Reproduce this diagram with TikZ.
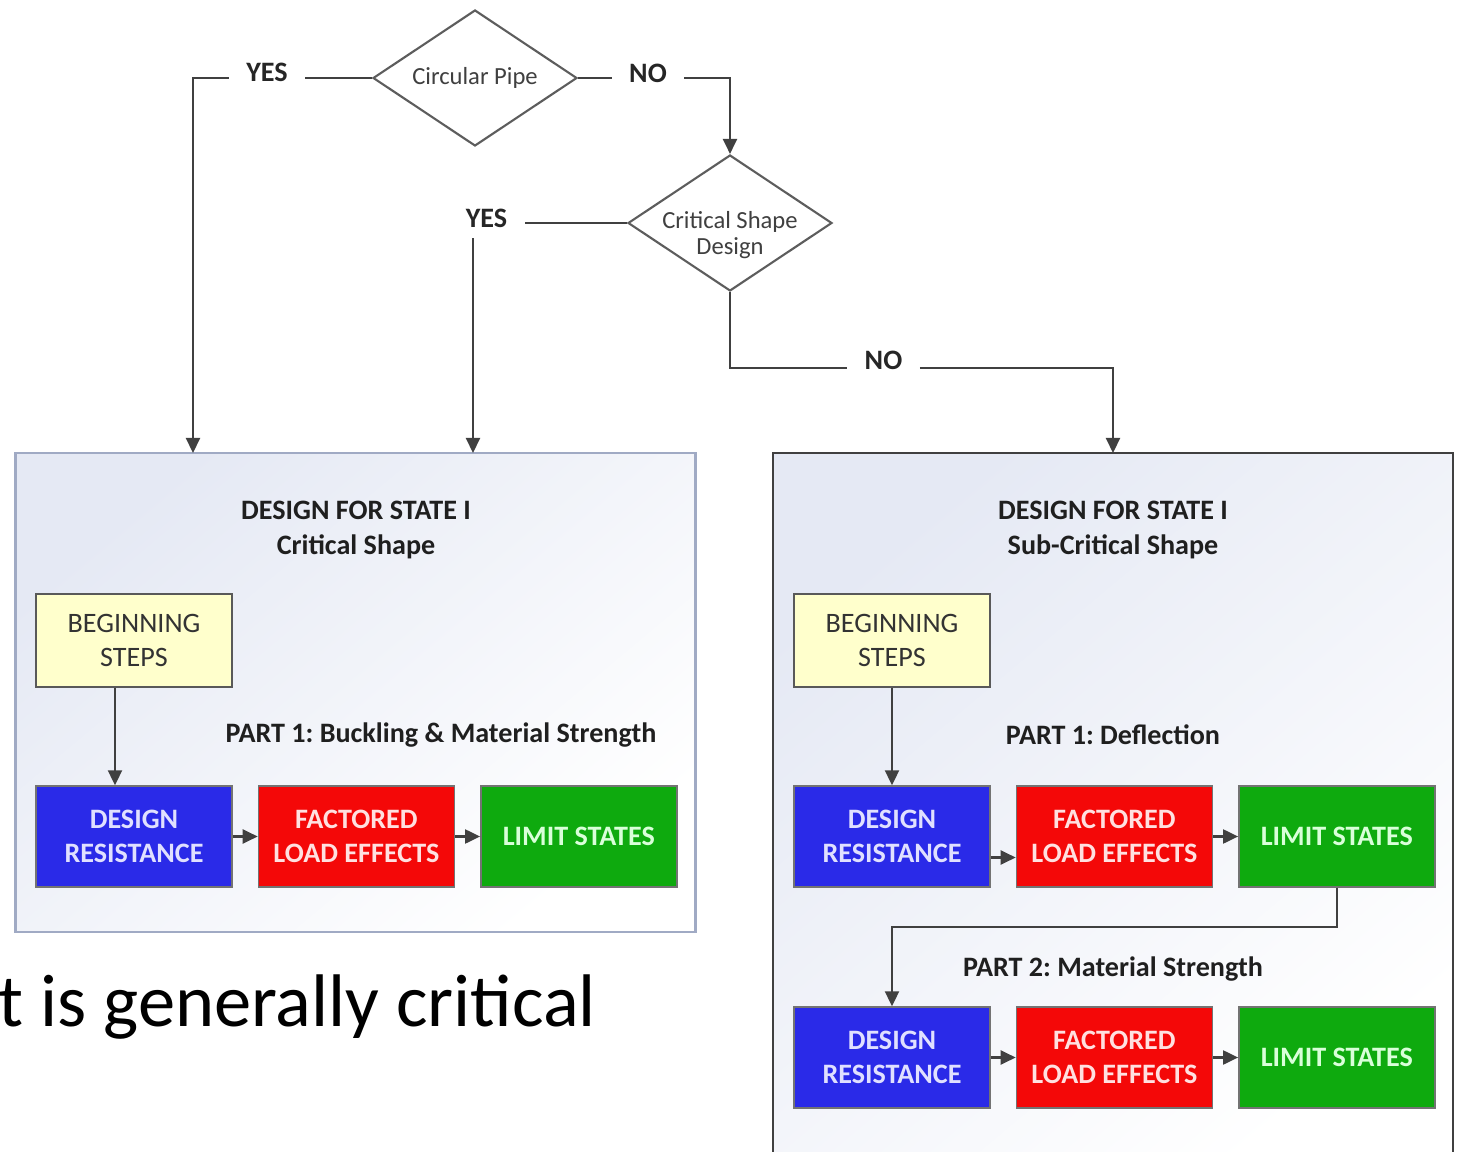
\documentclass[tikz,border=0pt]{standalone}
\usepackage{fontspec}
\setmainfont{Carlito}
\usepackage{tikz}
\usetikzlibrary{shapes.geometric, arrows.meta, positioning, calc}
\frenchspacing

\definecolor{boxblue}{RGB}{42,42,232}
\definecolor{boxred}{RGB}{244,8,8}
\definecolor{boxgreen}{RGB}{14,170,14}
\definecolor{stepyellow}{RGB}{255,255,204}
\definecolor{panelshade}{RGB}{229,233,244}
\definecolor{paneledge}{RGB}{160,170,196}
\definecolor{linegray}{RGB}{64,64,64}

\tikzset{
  >={Triangle[length=1.5mm, width=1.4mm]},
  decision/.style={diamond, draw=linegray!85, fill=white, line width=0.6pt,
    minimum width=2.04cm, minimum height=1.36cm, aspect=1.5,
    inner xsep=-0.25cm, inner ysep=0pt, align=center, text=black!75,
    font=\fontsize{7}{7.2}\selectfont},
  decisiontext/.style={align=center, text=black!75, inner sep=0pt,
    font=\fontsize{7}{7.2}\selectfont},
  answer/.style={font=\bfseries\fontsize{8}{9}\selectfont, text=black!85,
    inner xsep=0.17cm, inner ysep=0pt},
  panel/.style={draw, line width=0.6pt, shading=axis, top color=panelshade,
    bottom color=white, shading angle=40, minimum width=6.8cm},
  title/.style={align=center, text=black!88,
    font=\bfseries\fontsize{8}{9.7}\selectfont},
  stepbox/.style={draw=black!65, fill=stepyellow, minimum width=1.96cm,
    minimum height=0.93cm, align=center, text=black!80,
    font=\fontsize{8}{9.7}\selectfont},
  workbox/.style={draw=black!55, minimum width=1.96cm, minimum height=1.01cm,
    align=center, font=\bfseries\fontsize{8}{9.7}\selectfont},
  flow/.style={->, line width=0.6pt, draw=linegray},
  link/.style={line width=0.6pt, draw=linegray}
}

\begin{document}
\begin{tikzpicture}
\useasboundingbox (0,0) rectangle (14.6,-11.52);

% decisions
\node[decision] (pipe) at (4.75,-0.78) {Circular Pipe};
\node[decision] (crit) at (7.30,-2.23) {};
\node[decisiontext] (crittext) at (7.30,-2.35) {Critical Shape\\Design};
\node[answer] (yesA) at (2.67,-0.72) {YES};
\node[answer] (noA) at (6.48,-0.73) {NO};
\node[answer] (yesB) at (4.865,-2.18) {YES};
\node[answer] (noB) at (8.835,-3.60) {NO};

% design panels
\node[panel, draw=paneledge, minimum height=4.79cm] (leftpanel) at (3.555,-6.925) {};
\node[panel, draw=linegray, minimum height=7.17cm] (rightpanel) at (11.13,-8.115) {};
\coordinate (inA) at (1.93,-4.53);
\coordinate (inB) at (4.73,-4.53);
\coordinate (inC) at (11.13,-4.53);

% branches
\draw[link] (pipe.west) -- (yesA.east |- pipe.west);
\draw[flow] (yesA.west |- pipe.west) -| (inA);
\draw[link] (pipe.east) -- (noA.west |- pipe.east);
\draw[flow] (noA.east |- pipe.east) -| (crit.north);
\draw[link] (crit.west) -- (yesB.east |- crit.west);
\draw[flow] ([yshift=-0.1cm]yesB.south -| inB) -- (inB);
\draw[link] (crit.south) |- ([yshift=-0.08cm]noB.west);
\draw[flow] ([yshift=-0.08cm]noB.east) -| (inC);

% left panel: critical shape
\node[title] (titleL) at (3.56,-5.30) {DESIGN FOR STATE I\\Critical Shape};
\node[stepbox] (begL) at (1.34,-6.405) {BEGINNING\\STEPS};
\node[title] (partL) at (4.41,-7.35) {PART 1: Buckling \& Material Strength};
\node[workbox, fill=boxblue, text=white!88!blue] (drL) at (1.34,-8.365) {DESIGN\\RESISTANCE};
\node[workbox, fill=boxred, text=white!88!red, right=0.25cm of drL] (flL) {FACTORED\\LOAD EFFECTS};
\node[workbox, fill=boxgreen, text=white!85!green, right=0.25cm of flL] (lsL) {LIMIT STATES};
\draw[flow] ([xshift=-0.19cm]begL.south) -- ([xshift=-0.19cm]drL.north);
\draw[flow] (drL) -- (flL);
\draw[flow] (flL) -- (lsL);

% right panel: sub-critical shape
\node[title] (titleR) at (11.13,-5.30) {DESIGN FOR STATE I\\Sub-Critical Shape};
\node[stepbox] (begR) at (8.92,-6.405) {BEGINNING\\STEPS};
\node[title] (partR1) at (11.13,-7.35) {PART 1: Deflection};
\node[workbox, fill=boxblue, text=white!88!blue] (drR1) at (8.92,-8.365) {DESIGN\\RESISTANCE};
\node[workbox, fill=boxred, text=white!88!red, right=0.25cm of drR1] (flR1) {FACTORED\\LOAD EFFECTS};
\node[workbox, fill=boxgreen, text=white!85!green, right=0.25cm of flR1] (lsR1) {LIMIT STATES};
\node[title] (partR2) at (11.13,-9.69) {PART 2: Material Strength};
\node[workbox, fill=boxblue, text=white!88!blue] (drR2) at (8.92,-10.575) {DESIGN\\RESISTANCE};
\node[workbox, fill=boxred, text=white!88!red, right=0.25cm of drR2] (flR2) {FACTORED\\LOAD EFFECTS};
\node[workbox, fill=boxgreen, text=white!85!green, right=0.25cm of flR2] (lsR2) {LIMIT STATES};
\draw[flow] (begR) -- (drR1);
\draw[flow] ([yshift=-0.21cm]drR1.east) -- ([yshift=-0.21cm]flR1.west);
\draw[flow] (flR1) -- (lsR1);
\draw[flow] (lsR1.south) -- ++(0,-0.39) -| (drR2.north);
\draw[flow] (drR2) -- (flR2);
\draw[flow] (flR2) -- (lsR2);

% slide text behind
\node[anchor=base west, inner sep=0pt, font=\fontsize{21.2}{24}\selectfont] (note) at (-0.02,-10.26) {t is generally critical};
\end{tikzpicture}
\end{document}
